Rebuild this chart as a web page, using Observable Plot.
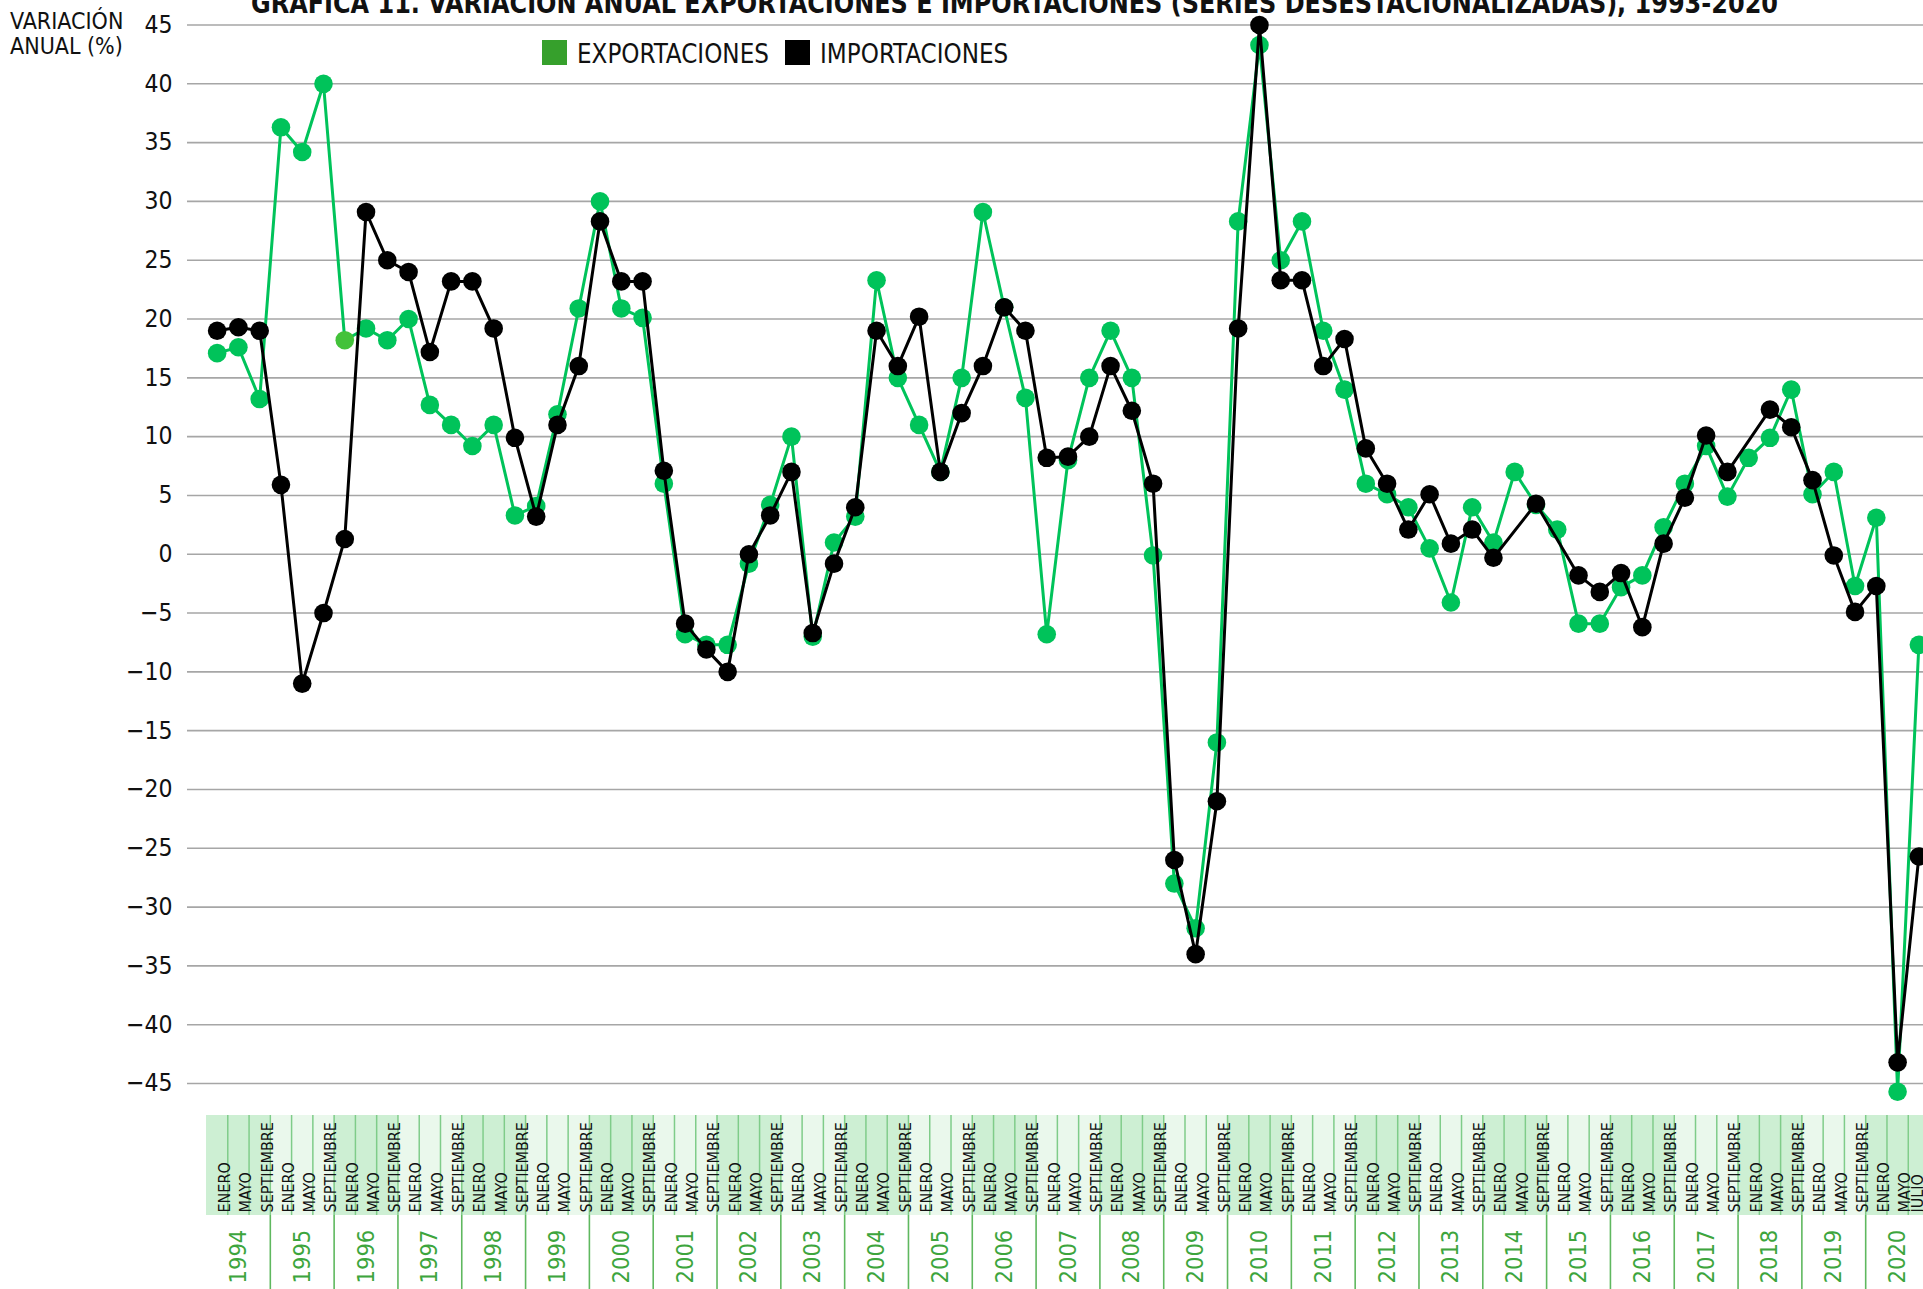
<!DOCTYPE html>
<html>
<head>
<meta charset="utf-8">
<script src="https://cdn.jsdelivr.net/npm/d3@7"></script>
<script src="https://cdn.jsdelivr.net/npm/@observablehq/plot@0.6"></script>
<style>
  html, body { margin: 0; padding: 0; background: #ffffff; }
  #wrap { position: relative; width: 1923px; height: 1289px; overflow: hidden;
          font-family: "DejaVu Sans Condensed", "DejaVu Sans", sans-serif; }
  #wrap > svg, #wrap > div > svg { display: block; }
  #overlay { position: absolute; left: 0; top: 0; pointer-events: none; }
</style>
</head>
<body>
<div id="wrap"></div>
<script>
// ---------------- DATA ----------------
const years = [1994, 1995, 1996, 1997, 1998, 1999, 2000, 2001, 2002, 2003, 2004, 2005, 2006,
               2007, 2008, 2009, 2010, 2011, 2012, 2013, 2014, 2015, 2016, 2017, 2018, 2019, 2020];
const months = ["ENERO", "MAYO", "SEPTIEMBRE"];
const lastYearMonths = ["ENERO", "MAYO", "JULIO"];

const exportaciones = [
  17.1, 17.6, 13.2,   36.3, 34.2, 40.0,   18.2, 19.2, 18.2,   20.0, 12.7, 11.0,
  9.2, 11.0, 3.3,     4.1, 11.9, 20.9,    30.0, 20.9, 20.1,   6.0, -6.8, -7.7,
  -7.7, -0.8, 4.2,    10.0, -7.0, 1.0,    3.2, 23.3, 15.0,    11.0, 7.0, 15.0,
  29.1, 21.0, 13.3,   -6.8, 8.0, 15.0,    19.0, 15.0, -0.1,   -28.0, -31.8, -16.0,
  28.3, 43.3, 25.0,   28.3, 19.0, 14.0,   6.0, 5.1, 4.0,      0.5, -4.1, 4.0,
  1.0, 7.0, 4.2,      2.1, -5.9, -5.9,    -2.8, -1.8, 2.3,    6.0, 9.2, 4.9,
  8.2, 9.9, 14.0,     5.1, 7.0, -2.7,     3.1, -45.7, -7.7
];
const importaciones = [
  19.0, 19.3, 19.0,   5.9, -11.0, -5.0,   1.3, 29.1, 25.0,    24.0, 17.2, 23.2,
  23.2, 19.2, 9.9,    3.2, 11.0, 16.0,    28.3, 23.2, 23.2,   7.1, -5.9, -8.1,
  -10.0, 0.0, 3.3,    7.0, -6.7, -0.8,    4.0, 19.0, 16.0,    20.2, 7.0, 12.0,
  16.0, 21.0, 19.0,   8.2, 8.3, 10.0,     16.0, 12.2, 6.0,    -26.0, -34.0, -21.0,
  19.2, 45.0, 23.3,   23.3, 16.0, 18.3,   9.0, 6.0, 2.1,      5.1, 0.9, 2.1,
  -0.3, null, 4.3,    null, -1.8, -3.2,   -1.6, -6.2, 0.9,    4.8, 10.1, 7.0,
  null, 12.3, 10.8,   6.3, -0.1, -4.9,    -2.7, -43.2, -25.7
];
const yTicks = [-45, -40, -35, -30, -25, -20, -15, -10, -5, 0, 5, 10, 15, 20, 25, 30, 35, 40, 45];

const seriesNames = ["EXPORTACIONES", "IMPORTACIONES"];
const titleText = "GRÁFICA 11. VARIACIÓN ANUAL EXPORTACIONES E IMPORTACIONES (SERIES DESESTACIONALIZADAS), 1993-2020";
const yLabelLines = ["VARIACIÓN", "ANUAL (%)"];

// ---------------- TABLES ----------------
const periods = years.flatMap(y => (y === 2020 ? lastYearMonths : months).map(m => ({year: y, month: m})))
  .map((d, i) => ({...d, i}));
const expRows = exportaciones.map((v, i) => ({i, v})).filter(d => d.v != null);
const impRows = importaciones.map((v, i) => ({i, v})).filter(d => d.v != null);

// ---------------- STYLE ----------------
const GREEN = "#00c35a";
const GREEN_ODD = "#43c23a";
const LEGEND_GREEN = "#36a02c";
const FONT = '"DejaVu Sans Condensed", "DejaVu Sans", sans-serif';
const xScale = {type: "linear", domain: [-0.5, periods.length - 0.5], range: [206, 1929], axis: null};

const main = Plot.plot({
  width: 1923, height: 1115,
  marginLeft: 187, marginRight: 0, marginTop: 24.5, marginBottom: 32,
  x: xScale,
  y: {domain: [-45, 45], ticks: yTicks, tickSize: 0, tickPadding: 15, label: null},
  style: {background: "transparent", fontFamily: FONT, fontSize: "24.5px", color: "#111", overflow: "visible"},
  marks: [
    Plot.ruleY(yTicks, {stroke: "#a6a6a6", strokeWidth: 1.6}),
    Plot.line(expRows, {x: "i", y: "v", stroke: GREEN, strokeWidth: 3}),
    Plot.dot(expRows, {x: "i", y: "v", r: 9.3, fill: d => d.i === 6 ? GREEN_ODD : GREEN, stroke: "none"}),
    Plot.line(impRows, {x: "i", y: "v", stroke: "#000", strokeWidth: 3}),
    Plot.dot(impRows, {x: "i", y: "v", r: 9.3, fill: "#000", stroke: "none"})
  ]
});

const lastIndex = periods.length - 1;
const strip = Plot.plot({
  width: 1923, height: 174,
  marginLeft: 187, marginRight: 0, marginTop: 0, marginBottom: 0,
  x: xScale,
  style: {background: "transparent", fontFamily: FONT, overflow: "visible"},
  marks: [
    Plot.rect(periods, {x1: d => d.i - 0.5, x2: d => d.i + 0.5,
      fill: d => (d.year - years[0]) % 2 === 0 ? "#cdefd3" : "#eaf8ec", insetBottom: 74}),
    Plot.ruleX(periods.slice(1), {x: d => d.i - 0.5, stroke: "#7fcc89", strokeWidth: 1.5, insetBottom: 74}),
    Plot.ruleX(years.slice(1), {x: y => (y - years[0]) * 3 - 0.5, stroke: "#5fb85f", strokeWidth: 1.6, insetTop: 100}),
    Plot.text(periods.slice(0, lastIndex), {x: "i", text: "month", rotate: -90, textAnchor: "start", frameAnchor: "top",
      dy: 97, dx: 1.5, fontSize: 16, fill: "#111"}),
    Plot.text(periods.slice(lastIndex), {x: "i", text: "month", rotate: -90, textAnchor: "start", frameAnchor: "top",
      dy: 97, dx: -7, fontSize: 16, fill: "#111"}),
    Plot.text(years, {x: y => (y - years[0]) * 3 + 1, text: y => String(y), rotate: -90, textAnchor: "start",
      frameAnchor: "bottom", dy: -6, dx: 7.5, fontSize: 23.5, fill: "#3da53d"})
  ]
});

const wrap = document.getElementById("wrap");
wrap.appendChild(main);
wrap.appendChild(strip);

// ---------------- OVERLAY: title, y label, legend ----------------
const ov = d3.select(wrap).append("svg").attr("id", "overlay")
  .attr("width", 1923).attr("height", 90).style("font-family", FONT);

ov.append("text").attr("x", 1014.5).attr("y", 13).attr("text-anchor", "middle")
  .attr("font-weight", "bold").attr("font-size", 28).attr("fill", "#111")
  .attr("textLength", 1527).attr("lengthAdjust", "spacingAndGlyphs").text(titleText);

ov.selectAll("text.ylab").data(yLabelLines).join("text").attr("class", "ylab")
  .attr("x", 10).attr("y", (d, k) => 28.5 + k * 25).attr("font-size", 23).attr("fill", "#111").text(d => d);

const legendItems = [
  {name: seriesNames[0], color: LEGEND_GREEN, x: 542},
  {name: seriesNames[1], color: "#000", x: 785}
];
const lg = ov.selectAll("g.lg").data(legendItems).join("g").attr("class", "lg")
  .attr("transform", d => `translate(${d.x},40)`);
lg.append("rect").attr("width", 25).attr("height", 25).attr("fill", d => d.color);
lg.append("text").attr("x", 35).attr("y", 23).attr("font-size", 25.7).attr("fill", "#111").text(d => d.name);
</script>
</body>
</html>
